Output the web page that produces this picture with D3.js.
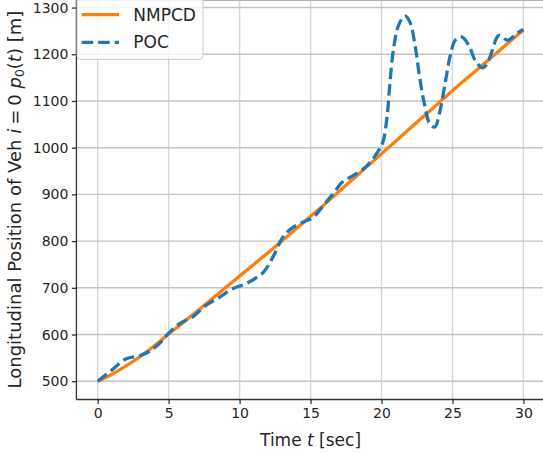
<!DOCTYPE html>
<html>
<head>
<meta charset="utf-8">
<script src="https://cdn.jsdelivr.net/npm/d3@7"></script>
<style>
  body { margin: 0; background: #fff; }
  svg { display: block; font-family: "DejaVu Sans", sans-serif; }
</style>
</head>
<body>
<div id="chart"></div>
<script>
// NMPCD trajectory (sampled every second)
const nmpcdT = d3.range(0, 31);
const nmpcdV = [500, 515, 533, 553, 576, 601, 625, 650, 675, 700, 725, 750, 775, 801, 827, 853,
    879, 906, 933, 960, 987, 1014, 1041, 1068, 1095, 1122, 1148, 1174, 1200, 1226, 1252];

// POC trajectory
const pocT = [0, 1, 2, 3, 3.7, 4.4, 5, 5.75, 6.7, 7.6, 8.6, 9.5, 10.4, 11.1, 11.7, 12.4, 13, 13.6,
    14.5, 15.2, 15.9, 16.6, 17.3, 18, 19, 19.8, 20.1, 20.4, 20.6, 20.85, 21.2, 21.65, 22, 22.4,
    22.7, 23.05, 23.4, 23.75, 24.1, 24.5, 24.85, 25.2, 25.65, 26.15, 26.6, 27.1, 27.45, 27.8,
    28.25, 28.9, 29.5, 30];
const pocV = [500, 524, 548, 555, 565, 582, 603, 623, 638, 662, 680, 698, 708, 720, 734, 769, 806, 826,
    841, 851, 876, 902, 928, 940, 962, 994, 1012, 1069, 1141, 1212, 1262, 1282, 1269, 1212,
    1148, 1090, 1051, 1044, 1076, 1141, 1198, 1230, 1237, 1219, 1187, 1171, 1180, 1208,
    1240, 1230, 1244, 1253];

const xTicks = [0, 5, 10, 15, 20, 25, 30];
const yTicks = [500, 600, 700, 800, 900, 1000, 1100, 1200, 1300];

const width = 543, height = 453;
const plot = { left: 76.4, right: 544.7, top: -2.3, bottom: 399.5 };

const svg = d3.select("#chart").append("svg")
    .attr("width", width)
    .attr("height", height);

// matplotlib-like 5% margins
const x = d3.scaleLinear().domain([-1.5, 31.5]).range([plot.left, plot.right]);
const yMin = 500, yMax = d3.max(pocV);
const pad = (yMax - yMin) * 0.05;
const y = d3.scaleLinear().domain([yMin - pad, yMax + pad]).range([plot.bottom, plot.top]);

svg.append("defs").append("clipPath").attr("id", "clip")
    .append("rect")
    .attr("x", plot.left).attr("y", plot.top)
    .attr("width", plot.right - plot.left).attr("height", plot.bottom - plot.top);

// grid
svg.append("g").selectAll("line").data(xTicks).enter().append("line")
    .attr("x1", d => x(d)).attr("x2", d => x(d))
    .attr("y1", plot.top).attr("y2", plot.bottom)
    .attr("stroke", "#d6d6d6").attr("stroke-width", 1.4);
svg.append("g").selectAll("line").data(yTicks).enter().append("line")
    .attr("x1", plot.left).attr("x2", plot.right)
    .attr("y1", d => y(d)).attr("y2", d => y(d))
    .attr("stroke", "#c4c4c4").attr("stroke-width", 1.4);

// top edge
svg.append("line")
    .attr("x1", plot.left).attr("x2", plot.right)
    .attr("y1", 0.5).attr("y2", 0.5)
    .attr("stroke", "#b0b0b0").attr("stroke-width", 1.2);

// lines
const lineGen = d3.line()
    .x(d => x(d[0]))
    .y(d => y(d[1]))
    .curve(d3.curveCatmullRom.alpha(0.5));

const lines = svg.append("g").attr("clip-path", "url(#clip)");
lines.append("path")
    .datum(nmpcdT.map((t, i) => [t, nmpcdV[i]]))
    .attr("fill", "none")
    .attr("stroke", "#ff7f0e")
    .attr("stroke-width", 3.3)
    .attr("d", lineGen);
lines.append("path")
    .datum(pocT.map((t, i) => [t, pocV[i]]))
    .attr("fill", "none")
    .attr("stroke", "#1f77b4")
    .attr("stroke-width", 3.3)
    .attr("stroke-dasharray", "11.5,5")
    .attr("d", lineGen);

// axes
const xAxis = svg.append("g")
    .attr("transform", `translate(0,${plot.bottom})`)
    .call(d3.axisBottom(x).tickValues(xTicks).tickFormat(d3.format("d"))
        .tickSize(4.5).tickPadding(4).tickSizeOuter(0));
const yAxis = svg.append("g")
    .attr("transform", `translate(${plot.left},0)`)
    .call(d3.axisLeft(y).tickValues(yTicks).tickFormat(d3.format("d"))
        .tickSize(4.5).tickPadding(3.5).tickSizeOuter(0));

[xAxis, yAxis].forEach(a => {
    a.select(".domain").attr("stroke", "#333").attr("stroke-width", 1.3);
    a.selectAll(".tick line").attr("stroke", "#333").attr("stroke-width", 1.3);
    a.selectAll(".tick text")
        .attr("fill", "#262626")
        .style("font-size", "14px")
        .style("font-family", "DejaVu Sans");
});
xAxis.select(".domain").attr("d", `M${plot.left},0H${plot.right}`);
yAxis.select(".domain").attr("d", `M0,${plot.bottom}V${plot.top}`);

// axis labels
const xl = svg.append("text")
    .attr("x", (plot.left + plot.right) / 2)
    .attr("y", 446)
    .attr("text-anchor", "middle")
    .attr("fill", "#262626")
    .style("font-size", "17px");
xl.append("tspan").text("Time ");
xl.append("tspan").style("font-style", "italic").text("t");
xl.append("tspan").text(" [sec]");

const yl = svg.append("text")
    .attr("transform", `translate(21,${(plot.top + plot.bottom) / 2 + 1}) rotate(-90)`)
    .attr("text-anchor", "middle")
    .attr("fill", "#262626")
    .style("font-size", "18px");
yl.append("tspan").text("Longitudinal Position of Veh ");
yl.append("tspan").style("font-style", "italic").text("i");
yl.append("tspan").attr("dx", 4).text("=");
yl.append("tspan").attr("dx", 4).text("0 ");
yl.append("tspan").style("font-style", "italic").text("p");
yl.append("tspan").attr("dy", 3).style("font-size", "12.5px").text("0");
yl.append("tspan").attr("dy", -3).text("(");
yl.append("tspan").style("font-style", "italic").text("t");
yl.append("tspan").text(") [m]");

// legend
const legendItems = [
    { name: "NMPCD", color: "#ff7f0e", dash: null },
    { name: "POC", color: "#1f77b4", dash: "11.5,5" }
];
const legend = svg.append("g");
legend.append("rect")
    .attr("x", 77).attr("y", -4)
    .attr("width", 126).attr("height", 63.3)
    .attr("rx", 3.5)
    .attr("fill", "white").attr("fill-opacity", 0.8)
    .attr("stroke", "#cccccc").attr("stroke-width", 1);
legendItems.forEach((d, i) => {
    const cy = 14.7 + i * 27.6;
    legend.append("line")
        .attr("x1", 81.7).attr("x2", 119)
        .attr("y1", cy).attr("y2", cy)
        .attr("stroke", d.color).attr("stroke-width", 3.3)
        .attr("stroke-dasharray", d.dash);
    legend.append("text")
        .attr("x", 133.3).attr("y", cy + 6)
        .attr("fill", "#262626")
        .style("font-size", "17px")
        .text(d.name);
});
</script>
</body>
</html>
